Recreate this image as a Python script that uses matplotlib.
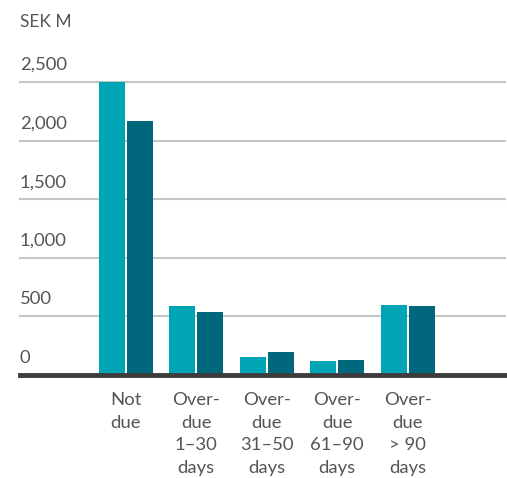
import matplotlib
matplotlib.use("Agg")
import matplotlib.pyplot as plt
import matplotlib.transforms as mtransforms
import numpy as np

plt.rcParams['font.family'] = ['Lato', 'DejaVu Sans']

categories = ["Not\ndue", "Over-\ndue\n1\u201330\ndays", "Over-\ndue\n31\u201350\ndays",
              "Over-\ndue\n61\u201390\ndays", "Over-\ndue\n> 90\ndays"]
series_a = [2500, 590, 155, 120, 598]   # lighter teal
series_b = [2170, 538, 197, 128, 590]   # dark teal
yticks = [0, 500, 1000, 1500, 2000, 2500]
ytick_labels = ["0", "500", "1,000", "1,500", "2,000", "2,500"]

W, H = 507, 478
fig = plt.figure(figsize=(W / 100, H / 100), dpi=100)
# axes from x=20..505 px, y baseline at 375 px, 2500 at 82 px
ax = fig.add_axes([20 / W, (H - 375) / H, 485 / W, (375 - 82) / H])

x = np.arange(len(categories))
bw = 0.369
off = 0.199
ax.bar(x - off, series_a, bw, color="#00A5B5", zorder=3, clip_on=False)
ax.bar(x + off, series_b, bw, color="#00677D", zorder=3, clip_on=False)

ax.set_xlim(-1.5, 5.38)
ax.set_ylim(0, 2500)

for v in yticks[1:]:
    ax.axhline(v, color="#c6c6c6", lw=1.5, zorder=1, clip_on=False)
ax.axhline(0, color="#3c3c3c", lw=3.5, zorder=4, clip_on=False)

for s in ax.spines.values():
    s.set_visible(False)
ax.set_xticks([])
ax.set_yticks([])

grey = "#555555"
ytr = ax.get_yaxis_transform()
for v, lab in zip(yticks, ytick_labels):
    t = ytr + mtransforms.ScaledTranslation(0, 9 / 100, fig.dpi_scale_trans)
    ax.text(0, v, lab, transform=t, ha="left", va="bottom", fontsize=13.3, color=grey)

xtr = ax.get_xaxis_transform()
for i, lab in enumerate(categories):
    t = xtr + mtransforms.ScaledTranslation(0, -17 / 100, fig.dpi_scale_trans)
    ax.text(i, 0, lab, transform=t, ha="center", va="top", fontsize=13.3,
            color=grey, linespacing=1.5)

fig.text(20 / W, 1 - 22 / H, "SEK M", ha="left", va="center", fontsize=12.5, color=grey)

fig.savefig("out.png", dpi=100)
